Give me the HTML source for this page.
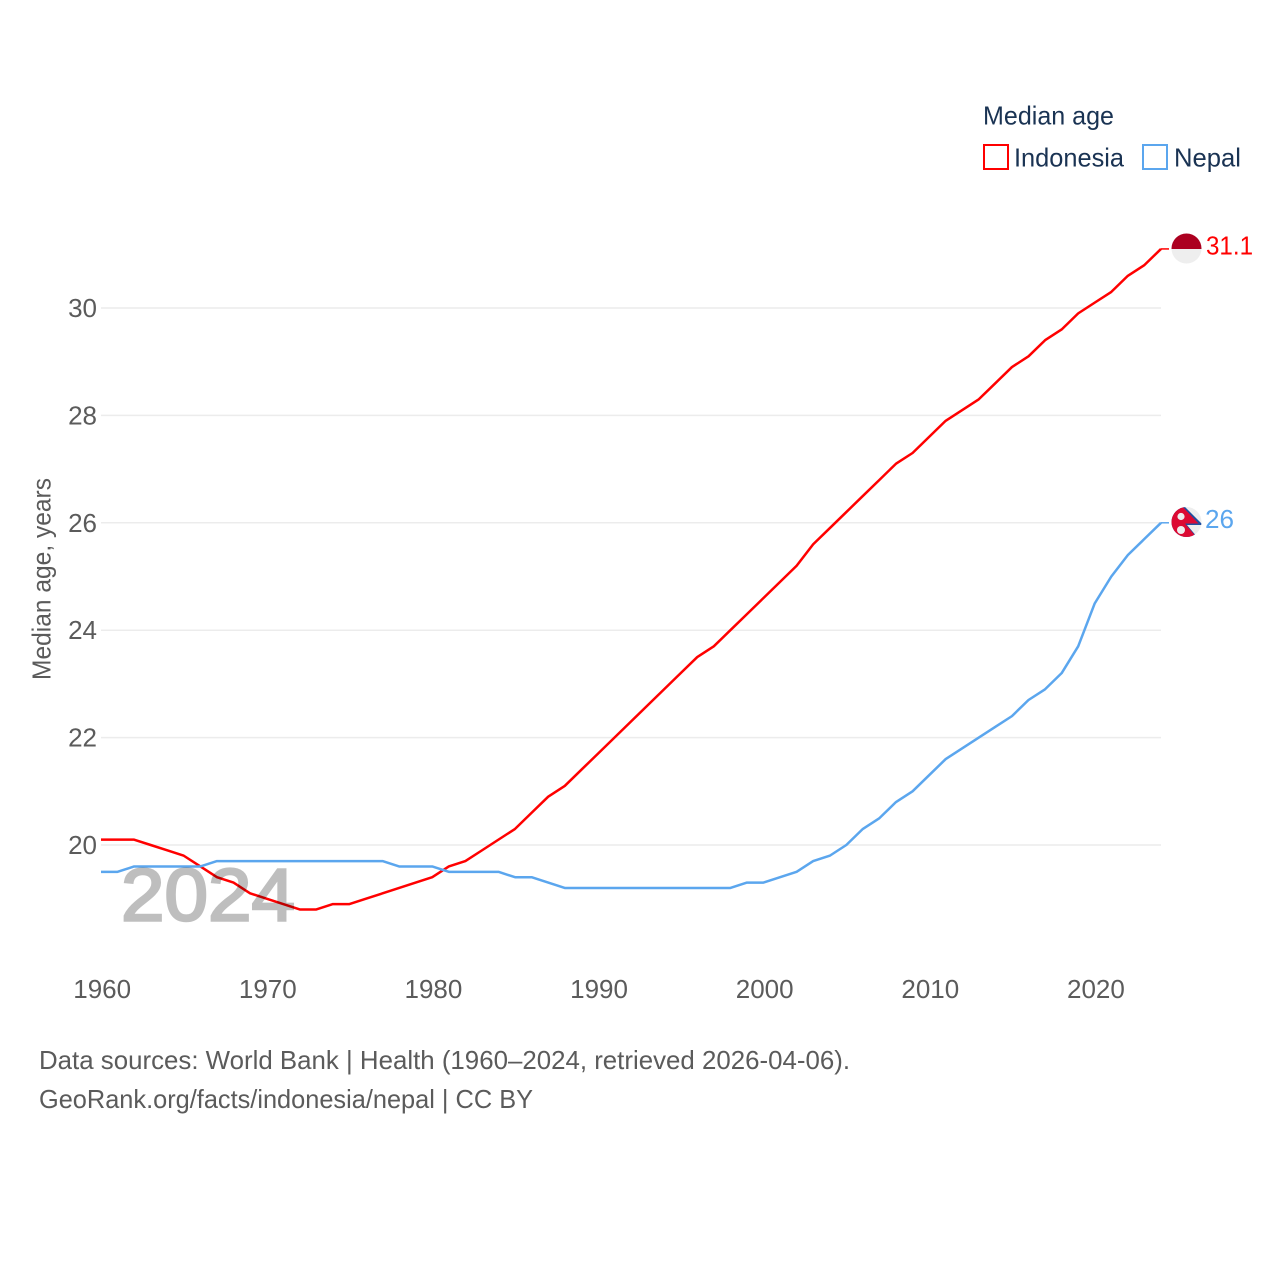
<!DOCTYPE html>
<html lang="en">
<head>
<meta charset="utf-8">
<title>Median age: Indonesia and Nepal</title>
<style>
html,body{margin:0;padding:0;background:#fff;width:1280px;height:1280px;overflow:hidden}
svg{display:block;font-family:"Liberation Sans",sans-serif}
</style>
</head>
<body>
<svg id="chart" width="1280" height="1280" viewBox="0 0 1280 1280" xmlns="http://www.w3.org/2000/svg">
  <defs>
    <clipPath id="flag-clip-id"><circle cx="1186.5" cy="248.5" r="15"/></clipPath>
    <clipPath id="flag-clip-np"><circle cx="1186.5" cy="522" r="15"/></clipPath>
  </defs>
  <rect width="1280" height="1280" fill="#fff"/>

  <g id="grid"></g>
  <g id="y-ticks"></g>
  <g id="x-ticks"></g>

  <text transform="translate(50.5,680) rotate(-90)" font-size="26" fill="#5b5b5b" textLength="202" lengthAdjust="spacingAndGlyphs">Median age, years</text>

  <g id="series"></g>

  <text x="121" y="920.5" font-size="74" font-weight="400" fill="#000" stroke="#000" stroke-width="2.5" opacity="0.25" textLength="174" lengthAdjust="spacingAndGlyphs">2024</text>

  <g clip-path="url(#flag-clip-id)">
    <rect x="1171" y="233" width="31" height="16" fill="#ac0020"/>
    <rect x="1171" y="249" width="31" height="15" fill="#eeeeee"/>
  </g>
  <text x="1206" y="254.5" font-size="26" fill="#ff0000" textLength="47" lengthAdjust="spacingAndGlyphs">31.1</text>

  <g clip-path="url(#flag-clip-np)">
    <rect x="1171" y="506" width="31" height="32" fill="#eeeeee"/>
    <polygon points="1171,505 1183,505 1203,525 1187,525 1198,538 1171,540" fill="#1f4f9f"/>
    <polygon points="1171,505 1181,505 1198.5,523.5 1185,523.5 1197,538 1171,540" fill="#dc0a33"/>
    <circle cx="1181" cy="516.5" r="3.6" fill="#eeeeee"/>
    <circle cx="1181" cy="530" r="4" fill="#eeeeee"/>
  </g>
  <text x="1205" y="528" font-size="26" fill="#5ba6ee" textLength="29" lengthAdjust="spacingAndGlyphs">26</text>

  <g>
    <text x="983" y="124.5" font-size="26" fill="#1a3353" textLength="131" lengthAdjust="spacingAndGlyphs">Median age</text>
    <g>
      <rect x="984" y="145" width="24" height="24" fill="none" stroke="#ff0000" stroke-width="2"/>
      <text x="1014" y="166.5" font-size="26" fill="#1a3353" textLength="110" lengthAdjust="spacingAndGlyphs">Indonesia</text>
    </g>
    <g>
      <rect x="1143" y="145" width="24" height="24" fill="none" stroke="#5ba6ee" stroke-width="2"/>
      <text x="1174" y="166.5" font-size="26" fill="#1a3353" textLength="67" lengthAdjust="spacingAndGlyphs">Nepal</text>
    </g>
  </g>

  <text x="39" y="1069" font-size="26" fill="#5b5b5b" textLength="811" lengthAdjust="spacingAndGlyphs">Data sources: World Bank | Health (1960–2024, retrieved 2026-04-06).</text>
  <text x="39" y="1108" font-size="26" fill="#5b5b5b" textLength="494" lengthAdjust="spacingAndGlyphs">GeoRank.org/facts/indonesia/nepal | CC BY</text>
</svg>

<script>
const years = [1960,1961,1962,1963,1964,1965,1966,1967,1968,1969,1970,1971,1972,1973,1974,1975,1976,1977,1978,1979,1980,1981,1982,1983,1984,1985,1986,1987,1988,1989,1990,1991,1992,1993,1994,1995,1996,1997,1998,1999,2000,2001,2002,2003,2004,2005,2006,2007,2008,2009,2010,2011,2012,2013,2014,2015,2016,2017,2018,2019,2020,2021,2022,2023,2024];
const indonesiaValues = [20.1,20.1,20.1,20.0,19.9,19.8,19.6,19.4,19.3,19.1,19.0,18.9,18.8,18.8,18.9,18.9,19.0,19.1,19.2,19.3,19.4,19.6,19.7,19.9,20.1,20.3,20.6,20.9,21.1,21.4,21.7,22.0,22.3,22.6,22.9,23.2,23.5,23.7,24.0,24.3,24.6,24.9,25.2,25.6,25.9,26.2,26.5,26.8,27.1,27.3,27.6,27.9,28.1,28.3,28.6,28.9,29.1,29.4,29.6,29.9,30.1,30.3,30.6,30.8,31.1];
const nepalValues = [19.5,19.5,19.6,19.6,19.6,19.6,19.6,19.7,19.7,19.7,19.7,19.7,19.7,19.7,19.7,19.7,19.7,19.7,19.6,19.6,19.6,19.5,19.5,19.5,19.5,19.4,19.4,19.3,19.2,19.2,19.2,19.2,19.2,19.2,19.2,19.2,19.2,19.2,19.2,19.3,19.3,19.4,19.5,19.7,19.8,20.0,20.3,20.5,20.8,21.0,21.3,21.6,21.8,22.0,22.2,22.4,22.7,22.9,23.2,23.7,24.5,25.0,25.4,25.7,26.0];
const xTickLabels = [1960,1970,1980,1990,2000,2010,2020];
const yTickLabels = [20,22,24,26,28,30];

const SVG_NS = 'http://www.w3.org/2000/svg';
function xScale(year){ return 101 + (year - 1960) * (1060 / 64); }
function yScale(value){ return 845 - (value - 20) * 53.7; }

const gridLayer = document.getElementById('grid');
const yTickLayer = document.getElementById('y-ticks');
const xTickLayer = document.getElementById('x-ticks');
const seriesLayer = document.getElementById('series');

yTickLabels.forEach(function(tick){
  const line = document.createElementNS(SVG_NS, 'line');
  
  
  line.setAttribute('x1', xScale(1960));
  line.setAttribute('x2', xScale(2024));
  line.setAttribute('y1', yScale(tick));
  line.setAttribute('y2', yScale(tick));
  line.setAttribute('stroke', '#ececec');
  line.setAttribute('stroke-width', '1.5');
  gridLayer.appendChild(line);

  const label = document.createElementNS(SVG_NS, 'text');
  
  
  label.setAttribute('x', 97);
  label.setAttribute('y', yScale(tick) + 9);
  label.setAttribute('text-anchor', 'end');
  label.setAttribute('font-size', '26');
  label.setAttribute('fill', '#5b5b5b');
  label.textContent = tick;
  yTickLayer.appendChild(label);
});

xTickLabels.forEach(function(tick){
  const label = document.createElementNS(SVG_NS, 'text');
  
  
  label.setAttribute('x', xScale(tick) + 1.2);
  label.setAttribute('y', 998);
  label.setAttribute('text-anchor', 'middle');
  label.setAttribute('font-size', '26');
  label.setAttribute('fill', '#5b5b5b');
  label.textContent = tick;
  xTickLayer.appendChild(label);
});

function drawSeries(name, values, color){
  const points = years.map(function(year, i){
    return xScale(year).toFixed(2) + ',' + yScale(values[i]).toFixed(2);
  }).join(' ');
  const path = document.createElementNS(SVG_NS, 'polyline');
  
  
  path.setAttribute('points', points);
  path.setAttribute('fill', 'none');
  path.setAttribute('stroke', color);
  path.setAttribute('stroke-width', '2.5');
  path.setAttribute('stroke-linejoin', 'round');
  seriesLayer.appendChild(path);

  const lastY = yScale(values[values.length - 1]);
  const connector = document.createElementNS(SVG_NS, 'line');
  
  
  connector.setAttribute('x1', xScale(years[years.length - 1]));
  connector.setAttribute('x2', xScale(years[years.length - 1]) + 8);
  connector.setAttribute('y1', lastY);
  connector.setAttribute('y2', lastY);
  connector.setAttribute('stroke', color);
  connector.setAttribute('stroke-width', '1.5');
  seriesLayer.appendChild(connector);
}

drawSeries('indonesia', indonesiaValues, '#ff0000');
drawSeries('nepal', nepalValues, '#5ba6ee');
</script>
</body>
</html>
